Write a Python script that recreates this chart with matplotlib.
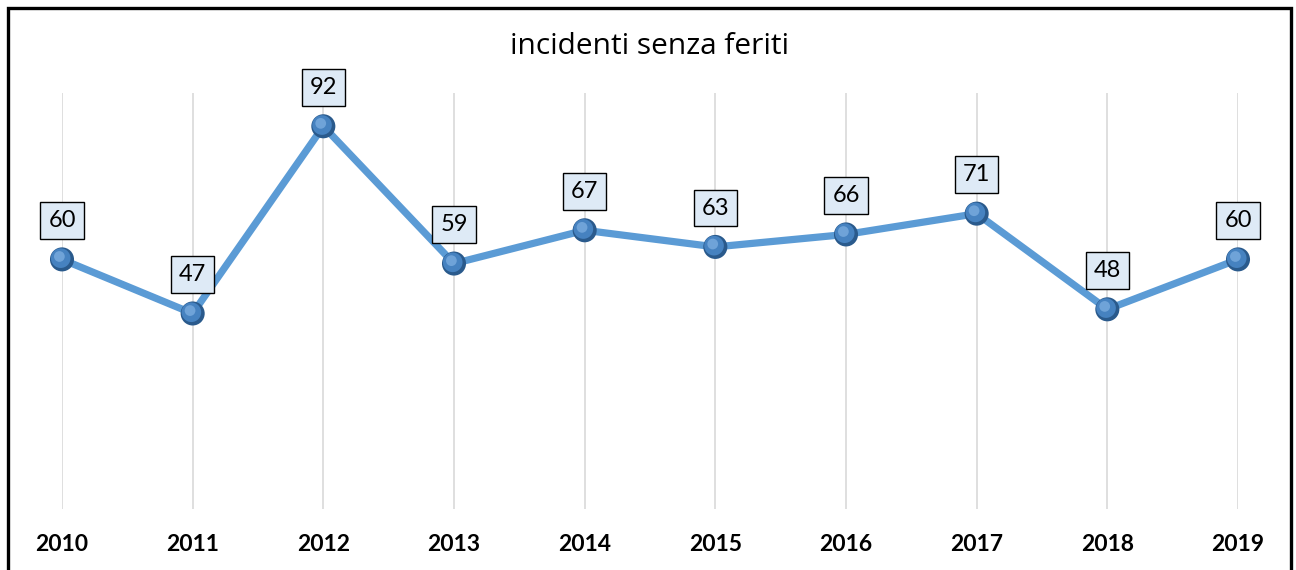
import matplotlib
matplotlib.use("Agg")
import matplotlib.pyplot as plt
from matplotlib.patches import Rectangle

years = ["2010", "2011", "2012", "2013", "2014", "2015", "2016", "2017", "2018", "2019"]
values = [60, 47, 92, 59, 67, 63, 66, 71, 48, 60]
title = "incidenti senza feriti"

W, H = 1296, 570
fig = plt.figure(figsize=(W / 100, H / 100), dpi=100)
ax = fig.add_axes([62 / W, 61 / H, (1238 - 62) / W, (509 - 93) / H])

x = list(range(len(years)))
ax.set_xlim(0, len(years) - 1)
ax.set_ylim(0, 100)

for xi in x:
    ax.axvline(xi, color="#D9D9D9", lw=1.2, zorder=0)

ax.plot(x, values, color="#5B9BD5", lw=5.2, solid_capstyle="round", zorder=2, clip_on=False)
ax.scatter(x, values, s=300, color="#2A5A8C", zorder=3, clip_on=False, edgecolors="none")
ax.scatter([xi - 0.01 for xi in x], [v + 0.3 for v in values], s=200, color="#4682C0",
           zorder=4, clip_on=False, edgecolors="none")
ax.scatter([xi - 0.02 for xi in x], [v + 0.7 for v in values], s=60, color="#6FA3D8",
           zorder=5, clip_on=False, edgecolors="none")

for xi, v in zip(x, values):
    ax.annotate(str(v), (xi, v), xytext=(0, 28), textcoords="offset points",
                ha="center", va="center", fontsize=17, family="Lato", color="black",
                bbox=dict(boxstyle="square,pad=0.33", fc="#DEEAF6", ec="black", lw=1.0),
                zorder=6, annotation_clip=False)

ax.set_xticks(x)
ax.set_xticklabels(years, fontsize=16.5, fontweight="bold", family="Lato")
ax.tick_params(axis="x", length=0, pad=18)
ax.set_yticks([])
for s in ax.spines.values():
    s.set_visible(False)

fig.text(650 / W, 1 - 47 / H, title, ha="center", va="center", fontsize=21.5, family="Open Sans")

fig.patches.append(Rectangle((8 / W, -0.02), (1291 - 8) / W, 1 - 8 / H + 0.02,
                             transform=fig.transFigure, fill=False, ec="black", lw=2.4))

fig.savefig("out.png", dpi=100)
